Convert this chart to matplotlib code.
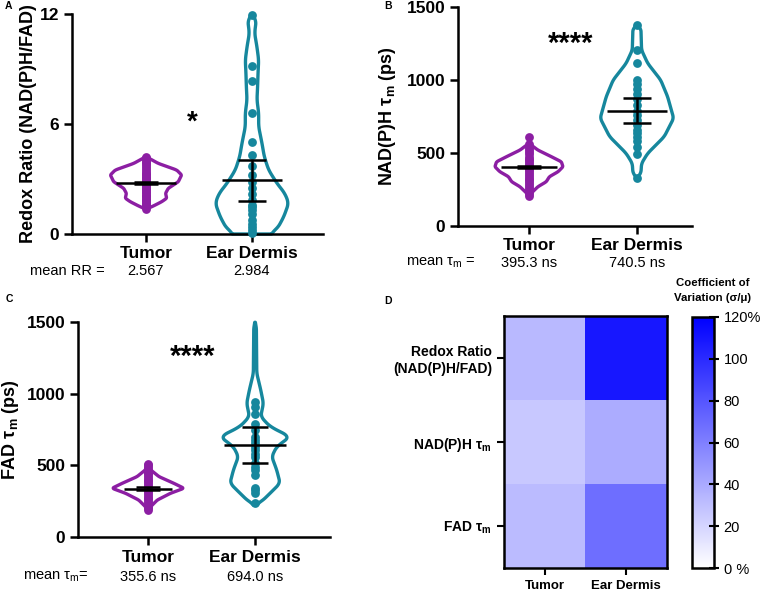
import matplotlib
matplotlib.use('Agg')
import matplotlib.pyplot as plt
import numpy as np
from matplotlib.colors import LinearSegmentedColormap

plt.rcParams['font.family'] = 'Liberation Sans'
plt.rcParams['mathtext.fontset'] = 'custom'
plt.rcParams['mathtext.rm'] = 'Liberation Sans'

groups = ['Tumor', 'Ear Dermis']
purple = '#8c1ea3'
teal = '#16879d'

# ---- panel A: redox ratio ----
rr_mean_txt = ['2.567', '2.984']
rr_tumor_pts = [1.38, 1.45, 1.55, 1.62, 1.7, 1.78, 1.85, 1.92, 2.0, 2.08, 2.15, 2.22, 2.3, 2.38,
                2.45, 2.52, 2.6, 2.68, 2.75, 2.82, 2.9, 2.98, 3.05, 3.12, 3.2, 3.28, 3.35, 3.45,
                3.55, 3.65, 3.75, 3.85, 3.95, 4.05, 4.15, 4.2]
rr_ear_pts = [11.95, 9.15, 8.35, 6.6, 5.0, 4.3, 3.7, 3.2, 2.85, 2.5, 2.2, 1.85, 1.6, 1.5, 1.3,
              1.1, 0.75, 0.55, 0.4, 0.2, 0.05]
rr_mid = [2.77, 2.93]
rr_lo = [2.72, 1.80]
rr_hi = [2.82, 4.05]
rr_tumor_y = [1.35, 1.53, 1.76, 1.95, 2.22, 2.49, 2.85, 3.22, 3.49, 3.85, 4.22]
rr_tumor_w = [0.0, 0.07, 0.148, 0.195, 0.185, 0.21, 0.305, 0.336, 0.29, 0.116, 0.0]
rr_ear_y = [0.0, 0.3, 0.94, 1.68, 2.22, 2.76, 3.49, 4.22, 4.96, 5.85, 6.6, 7.31, 8.04, 8.76,
            9.49, 10.2, 10.95, 11.67, 12.0]
rr_ear_w = [0.17, 0.24, 0.3, 0.346, 0.31, 0.236, 0.157, 0.116, 0.094, 0.063, 0.063, 0.047,
            0.053, 0.057, 0.063, 0.047, 0.025, 0.04, 0.0]

# ---- panel B: NAD(P)H lifetime ----
nad_mean_txt = ['395.3 ns', '740.5 ns']
nad_tumor_pts = [205, 220, 235, 250, 262, 275, 288, 300, 312, 325, 338, 350, 362, 375, 388, 400,
                 412, 425, 438, 450, 462, 475, 490, 505, 520, 535, 550, 565, 610]
nad_ear_pts = [1377, 1205, 1115, 1000, 970, 940, 905, 870, 830, 790, 760, 725, 690, 660, 640,
               610, 580, 540, 490, 330]
nad_mid = [405, 790]
nad_lo = [396, 703]
nad_hi = [414, 875]
nad_tumor_y = [201, 224, 269, 303, 338, 372, 406, 440, 475, 520, 566]
nad_tumor_w = [0.0, 0.02, 0.083, 0.16, 0.19, 0.27, 0.315, 0.30, 0.207, 0.083, 0.0]
nad_ear_y = [327, 361, 429, 498, 612, 738, 886, 1000, 1114, 1205, 1354, 1377]
nad_ear_w = [0.0, 0.037, 0.043, 0.1, 0.253, 0.34, 0.284, 0.22, 0.1, 0.043, 0.037, 0.0]

# ---- panel C: FAD lifetime ----
fad_mean_txt = ['355.6 ns', '694.0 ns']
fad_tumor_pts = [190, 200, 212, 225, 238, 250, 262, 275, 288, 300, 312, 325, 338, 350, 362, 375,
                 388, 400, 412, 425, 438, 450, 462, 475, 488, 500, 510]
fad_ear_pts = [944, 909, 860, 790, 747, 700, 680, 654, 630, 607, 580, 560, 514, 490, 468, 433,
               345, 328, 305, 235]
fad_mid = [338, 642]
fad_lo = [330, 516]
fad_hi = [346, 768]
fad_tumor_y = [184, 212, 258, 305, 340, 374, 421, 468, 519]
fad_tumor_w = [0.0, 0.025, 0.087, 0.21, 0.336, 0.243, 0.103, 0.025, 0.0]
fad_ear_y = [223, 247, 305, 375, 468, 561, 630, 700, 770, 840, 933, 1026, 1142, 1468, 1498]
fad_ear_w = [0.0, 0.06, 0.14, 0.234, 0.202, 0.156, 0.202, 0.327, 0.14, 0.053, 0.078, 0.053,
             0.016, 0.012, 0.0]

# ---- panel D: coefficient of variation (%) ----
cv_rows = ['Redox Ratio\n(NAD(P)H/FAD)', 'NAD(P)H τ$_\\mathregular{m}$', 'FAD τ$_\\mathregular{m}$']
cv_tumor = [33, 26, 32]
cv_ear = [109, 39, 68]
cv_ticks = [0, 20, 40, 60, 80, 100, 120]
cv_ticklabels = ['0 %', '20', '40', '60', '80', '100', '120%']

W, H = 760, 592
fig = plt.figure(figsize=(W / 100, H / 100), dpi=100)


def box(l, t, r, b):
    return [l / W, 1 - b / H, (r - l) / W, (b - t) / H]


def smooth_profile(ys, ws, n=300, window=13):
    yy = np.linspace(ys[0], ys[-1], n)
    ww = np.interp(yy, ys, ws)
    wp = np.pad(ww, window // 2, mode='edge')
    ww = np.convolve(wp, np.ones(window) / window, mode='valid')
    return yy, ww


def violin(ax, pos, ys, ws, pts, mid, lo, hi, color, midw=0.28, capw=0.13):
    yy, ww = smooth_profile(ys, ws)
    ax.fill(np.r_[pos - ww, (pos + ww)[::-1]], np.r_[yy, yy[::-1]], facecolor='white',
            edgecolor=color, lw=2.4, zorder=2, clip_on=False, joinstyle='round')
    ax.scatter(np.full(len(pts), pos), pts, s=40, color=color, zorder=3, clip_on=False,
               linewidths=0)
    ax.hlines(mid, pos - midw, pos + midw, color='black', lw=1.8, zorder=4)
    ax.hlines([lo, hi], pos - capw, pos + capw, color='black', lw=1.8, zorder=4)
    ax.vlines(pos, lo, hi, color='black', lw=1.8, zorder=4)


def style_axes(ax, ylim, yticks, xlim):
    ax.set_xlim(xlim)
    ax.set_ylim(ylim)
    ax.set_yticks(yticks)
    ax.set_xticks([0, 1])
    ax.set_xticklabels(groups, fontweight='bold', fontsize=12)
    for s in ['top', 'right']:
        ax.spines[s].set_visible(False)
    for s in ['left', 'bottom']:
        ax.spines[s].set_linewidth(1.8)
    ax.tick_params(width=1.8, length=6, labelsize=12.5, pad=3)
    for lab in ax.get_yticklabels():
        lab.set_fontweight('bold')


# panel A
axA = fig.add_axes(box(72, 14, 323, 234))
violin(axA, 0, rr_tumor_y, rr_tumor_w, rr_tumor_pts, rr_mid[0], rr_lo[0], rr_hi[0], purple,
       capw=0.11)
violin(axA, 1, rr_ear_y, rr_ear_w, rr_ear_pts, rr_mid[1], rr_lo[1], rr_hi[1], teal)
style_axes(axA, (0, 12), [0, 6, 12], (-0.698, 1.67))
axA.set_ylabel('Redox Ratio (NAD(P)H/FAD)', fontsize=13, fontweight='bold')
axA.yaxis.set_label_coords(-0.14, 0.5)
axA.text(0.44, 6.1, '*', ha='center', va='center', fontsize=20, fontweight='bold')
tr = axA.get_xaxis_transform()
axA.text(-0.74, -0.168, 'mean RR =', transform=tr, ha='center', va='center', fontsize=10.5)
for i, s in enumerate(rr_mean_txt):
    axA.text(i, -0.168, s, transform=tr, ha='center', va='center', fontsize=10.5)

# panel B
axB = fig.add_axes(box(458, 7, 692, 226))
violin(axB, 0, nad_tumor_y, nad_tumor_w, nad_tumor_pts, nad_mid[0], nad_lo[0], nad_hi[0],
       purple, midw=0.26, capw=0.11)
violin(axB, 1, nad_ear_y, nad_ear_w, nad_ear_pts, nad_mid[1], nad_lo[1], nad_hi[1], teal)
style_axes(axB, (0, 1500), [0, 500, 1000, 1500], (-0.657, 1.51))
axB.set_ylabel('NAD(P)H τ$_\\mathregular{m}$ (ps)', fontsize=13, fontweight='bold')
axB.yaxis.set_label_coords(-0.256, 0.5)
axB.text(0.39, 1250, '****', ha='center', va='center', fontsize=21, fontweight='bold')
tr = axB.get_xaxis_transform()
axB.text(-0.82, -0.169, 'mean τ$_\\mathregular{m}$ =', transform=tr, ha='center', va='center',
         fontsize=10.5)
for i, s in enumerate(nad_mean_txt):
    axB.text(i, -0.169, s, transform=tr, ha='center', va='center', fontsize=10.5)

# panel C
axC = fig.add_axes(box(78, 322, 330, 537))
violin(axC, 0, fad_tumor_y, fad_tumor_w, fad_tumor_pts, fad_mid[0], fad_lo[0], fad_hi[0],
       purple, midw=0.22, capw=0.11)
violin(axC, 1, fad_ear_y, fad_ear_w, fad_ear_pts, fad_mid[1], fad_lo[1], fad_hi[1], teal,
       midw=0.29, capw=0.12)
style_axes(axC, (0, 1500), [0, 500, 1000, 1500], (-0.654, 1.70))
axC.set_ylabel('FAD τ$_\\mathregular{m}$ (ps)', fontsize=13, fontweight='bold')
axC.yaxis.set_label_coords(-0.225, 0.5)
axC.text(0.42, 1255, '****', ha='center', va='center', fontsize=21, fontweight='bold')
tr = axC.get_xaxis_transform()
axC.text(-0.86, -0.186, 'mean τ$_\\mathregular{m}$=', transform=tr, ha='center', va='center',
         fontsize=10.5)
for i, s in enumerate(fad_mean_txt):
    axC.text(i, -0.186, s, transform=tr, ha='center', va='center', fontsize=10.5)

# panel D
cmap = LinearSegmentedColormap.from_list('wb', ['#ffffff', '#0000ff'])
axD = fig.add_axes(box(504, 316, 667, 568))
cv = np.column_stack([cv_tumor, cv_ear])
im = axD.imshow(cv, cmap=cmap, vmin=0, vmax=120, aspect='auto')
axD.set_xticks([0, 1])
axD.set_xticklabels(groups, fontweight='bold', fontsize=9.5)
axD.set_yticks([0, 1, 2])
axD.set_yticklabels(cv_rows, fontweight='bold', fontsize=10, ha='right')
axD.tick_params(width=1.5, length=5)
for s in axD.spines.values():
    s.set_linewidth(1.8)

cax = fig.add_axes(box(692, 317, 714, 568))
cb = fig.colorbar(im, cax=cax, ticks=cv_ticks)
cb.ax.set_yticklabels(cv_ticklabels)
cb.ax.tick_params(labelsize=10.5, direction='inout', length=7, width=1.5)
cb.outline.set_linewidth(1.8)
fig.text(713 / W, 1 - 283 / H, 'Coefficient of', ha='center', va='center', fontsize=8.2,
         fontweight='bold')
fig.text(713 / W, 1 - 298 / H, 'Variation (σ/μ)', ha='center', va='center', fontsize=8.2,
         fontweight='bold')

for lbl, x, y in [('A', 5, 6), ('B', 384, 6), ('C', 6, 299), ('D', 384, 301)]:
    fig.text(x / W, 1 - y / H, lbl, ha='left', va='center', fontsize=7.5, fontweight='bold')

fig.savefig('out.png', dpi=100)
